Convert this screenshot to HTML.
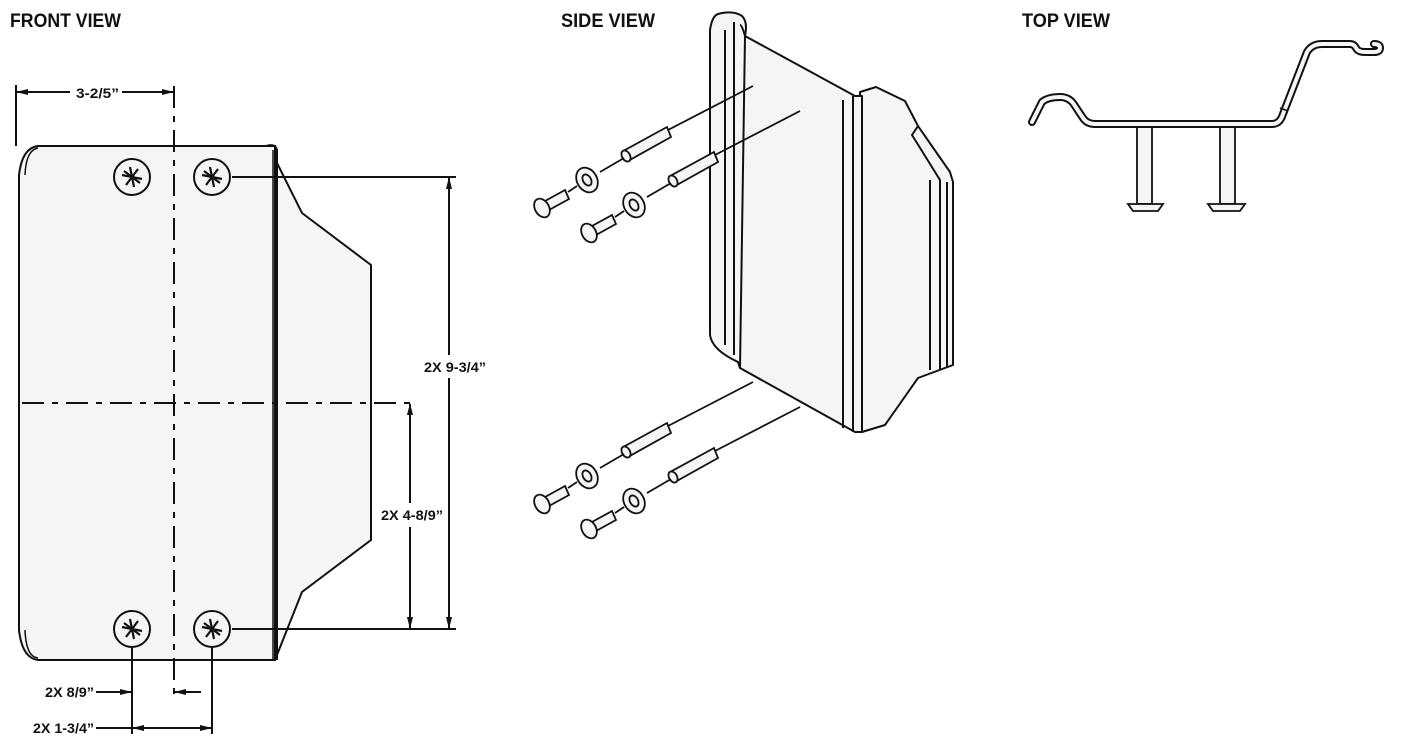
<!DOCTYPE html>
<html><head><meta charset="utf-8"><style>
html,body{margin:0;padding:0;background:#fff;}
svg{display:block;}
text{font-family:"Liberation Sans Narrow","Liberation Sans",sans-serif;font-weight:bold;fill:#111;}
</style></head><body>
<svg width="1401" height="756" viewBox="0 0 1401 756" xmlns="http://www.w3.org/2000/svg">
<defs>
<marker id="ar" markerWidth="12" markerHeight="8" refX="11" refY="4" orient="auto" markerUnits="userSpaceOnUse"><path d="M0,1 L12,4 L0,7 z" fill="#111"/></marker>
<g id="scr"><circle r="18" fill="#f4f5f7" stroke="#111" stroke-width="2"/>
<path d="M-10,-2 L10,2 M-6,8 L6,-8 M-2,-10 L2,10 M-8,-6 L8,6" stroke="#111" stroke-width="2.2"/></g>
</defs>
<text x="10" y="27" font-size="19" textLength="111" lengthAdjust="spacingAndGlyphs">FRONT VIEW</text>
<text x="561" y="27" font-size="19" textLength="94" lengthAdjust="spacingAndGlyphs">SIDE VIEW</text>
<text x="1022" y="27" font-size="19" textLength="88" lengthAdjust="spacingAndGlyphs">TOP VIEW</text>

<!-- FRONT VIEW -->
<path d="M268,145 L302,213 L371,265 L371,540 L302,592 L275,660 L266,660" fill="#f4f5f7" stroke="#111" stroke-width="2"/>
<path d="M275,146 L38,146 Q22,148 19,175 L19,630 Q22,658 38,660 L275,660 Z" fill="#f4f5f7" stroke="#111" stroke-width="2"/>
<path d="M25,175 Q26,150 38,148" fill="none" stroke="#111" stroke-width="1.5"/>
<path d="M25,630 Q26,657 38,658" fill="none" stroke="#111" stroke-width="1.5"/>
<path d="M266,146 Q275,143 277,150 L277,660" fill="none" stroke="#111" stroke-width="2"/>
<line x1="273" y1="150" x2="273" y2="660" stroke="#111" stroke-width="1.5"/>
<line x1="174" y1="86" x2="174" y2="700" stroke="#111" stroke-width="2" stroke-dasharray="22,8,6,8"/>
<line x1="22" y1="403" x2="418" y2="403" stroke="#111" stroke-width="2" stroke-dasharray="22,8,6,8"/>
<use href="#scr" x="132" y="177"/><use href="#scr" x="212" y="177"/>
<use href="#scr" x="132" y="629"/><use href="#scr" x="212" y="629"/>
<!-- top dim -->
<line x1="16" y1="85" x2="16" y2="146" stroke="#111" stroke-width="2"/>
<line x1="70" y1="92" x2="17" y2="92" stroke="#111" stroke-width="2" marker-end="url(#ar)"/>
<line x1="122" y1="92" x2="173" y2="92" stroke="#111" stroke-width="2" marker-end="url(#ar)"/>
<text x="76" y="98" font-size="14" textLength="43" lengthAdjust="spacingAndGlyphs">3-2/5”</text>
<!-- right dims -->
<line x1="232" y1="177" x2="456" y2="177" stroke="#111" stroke-width="2"/>
<line x1="232" y1="629" x2="456" y2="629" stroke="#111" stroke-width="2"/>
<line x1="449" y1="355" x2="449" y2="178" stroke="#111" stroke-width="2" marker-end="url(#ar)"/>
<line x1="449" y1="378" x2="449" y2="628" stroke="#111" stroke-width="2" marker-end="url(#ar)"/>
<text x="424" y="372" font-size="14" textLength="62" lengthAdjust="spacingAndGlyphs">2X 9-3/4”</text>
<line x1="410" y1="503" x2="410" y2="404" stroke="#111" stroke-width="2" marker-end="url(#ar)"/>
<line x1="410" y1="527" x2="410" y2="628" stroke="#111" stroke-width="2" marker-end="url(#ar)"/>
<text x="381" y="520" font-size="14" textLength="62" lengthAdjust="spacingAndGlyphs">2X 4-8/9”</text>
<!-- bottom dims -->
<line x1="132" y1="647" x2="132" y2="734" stroke="#111" stroke-width="2"/>
<line x1="212" y1="647" x2="212" y2="734" stroke="#111" stroke-width="2"/>
<line x1="96" y1="692" x2="131" y2="692" stroke="#111" stroke-width="2" marker-end="url(#ar)"/>
<line x1="201" y1="692" x2="175" y2="692" stroke="#111" stroke-width="2" marker-end="url(#ar)"/>
<text x="45" y="697" font-size="14" textLength="49" lengthAdjust="spacingAndGlyphs">2X 8/9”</text>
<line x1="96" y1="728" x2="133" y2="728" stroke="#111" stroke-width="2"/>
<line x1="170" y1="728" x2="133" y2="728" stroke="#111" stroke-width="2" marker-end="url(#ar)"/>
<line x1="170" y1="728" x2="211" y2="728" stroke="#111" stroke-width="2" marker-end="url(#ar)"/>
<text x="33" y="733" font-size="14" textLength="61" lengthAdjust="spacingAndGlyphs">2X 1-3/4”</text>

<!-- SIDE VIEW -->
<g stroke="#111" stroke-width="2" fill="#f4f5f7" stroke-linejoin="round">
<path d="M860,92 L876,87 L905,101 L918,126 L950,172 L953,182 L953,365 L918,378 L885,425 L862,432 Z"/>
<path d="M918,126 L912,135 L940,180 L940,370 M930,180 L930,370 M947,182 L947,368" fill="none"/>
<path d="M745,36 L855,96 L862,96 L862,432 L855,432 L740,368 L738,36 Z"/>
<path d="M718,14 Q712,16 710,30 L710,335 Q712,350 738,362 L740,368 L745,36 Q748,22 742,16 Q733,10 718,14 Z"/>
<path d="M725,30 L725,345 M734,22 L734,355 M745,36 Q742,25 740,25" fill="none"/>
<path d="M843,100 L843,428 M853,96 L853,432" fill="none"/>
</g>
<!-- screws & anchors -->
<g stroke="#111" stroke-width="1.8" fill="#f4f5f7">
<g id="asm1">
<line x1="753" y1="86" x2="668" y2="130"/>
<path d="M667,127 L625,150 L628,161 L671,137 Z"/><ellipse cx="626" cy="156" rx="4" ry="6" transform="rotate(-30 626 156)"/>
<line x1="624" y1="158" x2="600" y2="172"/>
<ellipse cx="587" cy="180" rx="10" ry="13" transform="rotate(-30 587 180)"/><ellipse cx="587" cy="180" rx="4" ry="6" transform="rotate(-30 587 180)"/>
<line x1="577" y1="186" x2="568" y2="192"/>
<path d="M565,190 L545,201 L549,210 L569,199 Z"/>
<ellipse cx="542" cy="208" rx="7" ry="10" transform="rotate(-30 542 208)"/>
</g>
<use href="#asm1" x="47" y="25"/>
<use href="#asm1" x="0" y="296"/>
<use href="#asm1" x="47" y="321"/>
</g>

<!-- TOP VIEW -->
<g fill="#f4f5f7" stroke="#111" stroke-width="1.8">
<rect x="1137" y="126" width="15" height="78"/>
<rect x="1220" y="126" width="15" height="78"/>
<path d="M1128,204 L1163,204 L1158,211 L1133,211 Z"/>
<path d="M1208,204 L1245,204 L1240,211 L1213,211 Z"/>
</g>
<path d="M1032,122 L1042,102 Q1048,97 1060,97 Q1070,97 1075,106 L1083,118 Q1087,124 1095,124 L1272,124 Q1280,124 1283,114 L1307,52 Q1312,44 1322,44 L1350,44 Q1354,44 1356,48 Q1358,52 1365,52 L1374,52 Q1380,52 1380,48 Q1380,44 1374,44" fill="none" stroke="#111" stroke-width="8" stroke-linejoin="round" stroke-linecap="round"/>
<path d="M1032,122 L1042,102 Q1048,97 1060,97 Q1070,97 1075,106 L1083,118 Q1087,124 1095,124 L1272,124 Q1280,124 1283,114 L1307,52 Q1312,44 1322,44 L1350,44 Q1354,44 1356,48 Q1358,52 1365,52 L1374,52 Q1380,52 1380,48 Q1380,44 1374,44" fill="none" stroke="#f4f5f7" stroke-width="4" stroke-linejoin="round" stroke-linecap="round"/>
<line x1="1280" y1="108" x2="1288" y2="111" stroke="#111" stroke-width="1.5"/>
</svg>
</body></html>
